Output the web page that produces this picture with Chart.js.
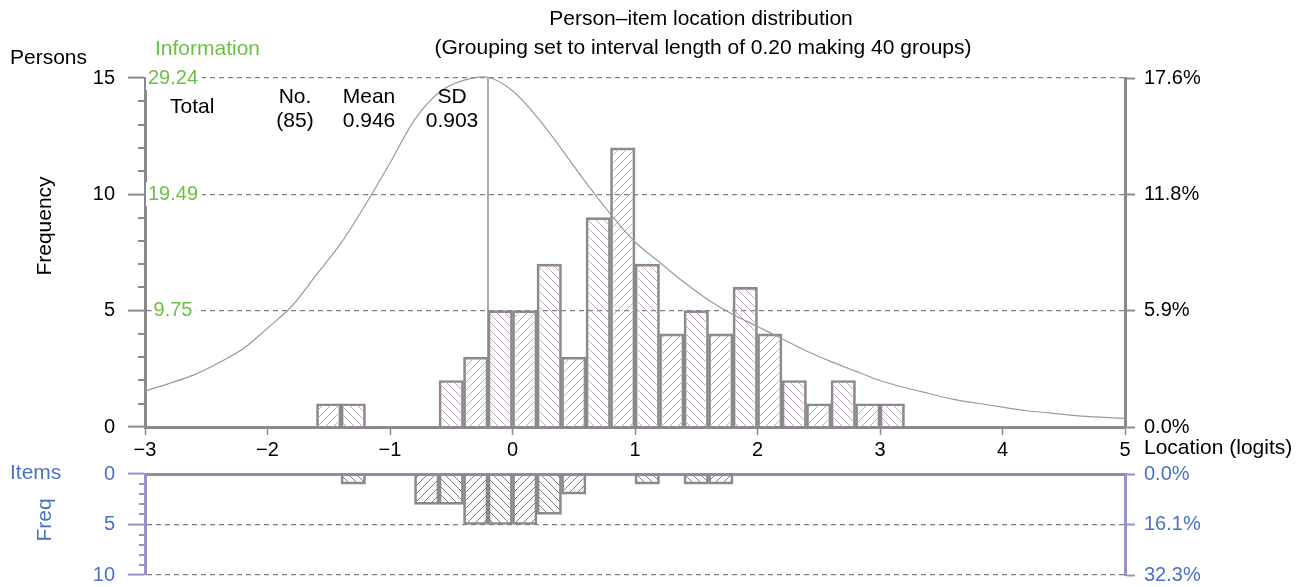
<!DOCTYPE html>
<html>
<head>
<meta charset="utf-8">
<script src="https://cdn.jsdelivr.net/npm/chart.js@4.4.1/dist/chart.umd.min.js"></script>
<style>
  body { margin: 0; background: #fff; }
  #wrap { position: relative; width: 1307px; height: 587px; }
  canvas { position: absolute; left: 0; }
  #personChart { top: 0; }
  #itemChart { top: 462px; }
</style>
</head>
<body>
<div id="wrap">
  <canvas id="personChart" width="1307" height="462"></canvas>
  <canvas id="itemChart" width="1307" height="125"></canvas>
</div>
<script>
// Persons: lower edge of each 0.20 logit group and count
const personLo = [-1.6, -1.4, -0.6, -0.4, -0.2, 0.0, 0.2, 0.4, 0.6, 0.8, 1.0, 1.2, 1.4, 1.6, 1.8, 2.0, 2.2, 2.4, 2.6, 2.8, 3.0];
const personN  = [1, 1, 2, 3, 5, 5, 7, 3, 9, 12, 7, 4, 5, 4, 6, 4, 2, 1, 2, 1, 1];

// Items: lower edge of each group and count
const itemLo = [-1.4, -0.8, -0.6, -0.4, -0.2, 0.0, 0.2, 0.4, 1.0, 1.4, 1.6];
const itemN  = [1, 3, 3, 5, 5, 5, 4, 2, 1, 1, 1];

// Test information curve
const infoX = [-3.0, -2.8, -2.6, -2.4, -2.2, -2.0, -1.8, -1.6, -1.4, -1.2, -1.0, -0.8, -0.6, -0.4, -0.2,
               0.0, 0.2, 0.4, 0.6, 0.8, 1.0, 1.2, 1.4, 1.6, 1.8, 2.0, 2.2, 2.4, 2.6, 2.8, 3.0,
               3.2, 3.4, 3.6, 3.8, 4.0, 4.2, 4.4, 4.6, 4.8, 5.0];
const infoY = [3.02, 3.66, 4.37, 5.36, 6.55, 8.28, 10.14, 12.77, 15.40, 18.64, 22.12, 25.73, 28.03, 29.04, 29.30,
               28.17, 25.98, 23.29, 20.47, 17.84, 15.50, 13.80, 12.12, 10.64, 9.43, 8.42, 7.39, 6.37, 5.48, 4.68, 3.90,
               3.31, 2.81, 2.32, 1.99, 1.66, 1.36, 1.17, 0.96, 0.82, 0.72];
const infoMax = 29.24;

const personMean = '0.946';
const personSD = '0.903';
const binWidth = 0.2;

const personTotal = personN.reduce((a, b) => a + b, 0);
const itemTotal = itemN.reduce((a, b) => a + b, 0);
let peakIdx = 0;
infoY.forEach((v, i) => { if (v > infoY[peakIdx]) peakIdx = i; });

const FONT = '"Liberation Sans", Arial, sans-serif';
const green = '#6cbf45';
const blue = '#4a72c4';
const axisGray = '#8a8a8a';
const axisPurple = '#9494c8';

Chart.defaults.font.family = FONT;
Chart.defaults.font.size = 20;
Chart.defaults.color = '#000';

// 8px diagonal hatch tile, one pixel per row so both directions look alike
function hatch(canvasId, dir, color) {
    const c = document.createElement('canvas');
    c.width = c.height = 8;
    const g = c.getContext('2d');
    g.fillStyle = color;
    for (let i = 0; i < 8; i++) {
        g.fillRect(dir === 'back' ? i : 7 - i, i, 1, 1);
    }
    return document.getElementById(canvasId).getContext('2d').createPattern(c, 'repeat');
}

function groupIndex(lo) { return Math.round((lo + 3) / binWidth); }

// free text drawn on top of the chart
const textPlugin = {
    id: 'texts',
    afterDraw(chart, args, opts) {
        const ctx = chart.ctx;
        (opts.items || []).forEach(t => {
            ctx.save();
            ctx.font = (t.size || 21) + 'px ' + FONT;
            ctx.fillStyle = t.color || '#000';
            ctx.textAlign = t.align || 'left';
            ctx.textBaseline = 'middle';
            ctx.translate(t.x, t.y);
            if (t.rotate) ctx.rotate(t.rotate);
            ctx.fillText(t.text, 0, 0);
            ctx.restore();
        });
    }
};

// short ticks between the labelled ones
const minorTicks = {
    id: 'minorTicks',
    afterDraw(chart, args, opts) {
        const s = chart.scales[opts.axis];
        if (!s) return;
        const ctx = chart.ctx;
        ctx.save();
        ctx.strokeStyle = opts.color;
        ctx.lineWidth = 2;
        for (let v = s.min; v <= s.max; v += 1) {
            if (v % 5 === 0) continue;
            const y = Math.round(s.getPixelForValue(v));
            ctx.beginPath();
            ctx.moveTo(s.right - opts.length, y);
            ctx.lineTo(s.right, y);
            ctx.stroke();
        }
        ctx.restore();
    }
};

const noZeroGrid = c => (c.tick && c.tick.value === 0) ? 'rgba(0,0,0,0)' : '#808080';
const fixWidth = w => s => { s.width = w; s.paddingTop = 0; s.paddingBottom = 0; };

// ---------- persons ----------
const backP = hatch('personChart', 'back', '#c6a6c6');
const fwdP = hatch('personChart', 'fwd', '#c6a6c6');

new Chart(document.getElementById('personChart'), {
    type: 'bar',
    data: {
        datasets: [
            {
                type: 'line',
                data: infoX.map((x, i) => ({ x: x, y: infoY[i] })),
                yAxisID: 'info',
                borderColor: '#9a9a9a',
                borderWidth: 1.2,
                pointRadius: 0,
                tension: 0.3,
                clip: 6,
                order: 0
            },
            {
                type: 'line',
                data: [{ x: infoX[peakIdx], y: 0 }, { x: infoX[peakIdx], y: infoY[peakIdx] }],
                yAxisID: 'info',
                borderColor: '#8c8c8c',
                borderWidth: 1.5,
                pointRadius: 0,
                clip: 6,
                order: 0
            },
            {
                type: 'bar',
                data: personLo.map((lo, i) => ({ x: lo + binWidth / 2, y: personN[i] })),
                yAxisID: 'y',
                backgroundColor: c => groupIndex(personLo[c.dataIndex]) % 2 ? fwdP : backP,
                borderColor: '#8a8a8a',
                borderWidth: 2,
                barPercentage: 1,
                categoryPercentage: 1,
                order: 1
            }
        ]
    },
    options: {
        responsive: false,
        animation: false,
        layout: { padding: { top: 78 } },
        plugins: {
            legend: { display: false },
            tooltip: { enabled: false },
            minorTicks: { axis: 'y', length: 7, color: axisGray },
            texts: {
                items: [
                    { text: 'Person\u2013item location distribution', x: 701, y: 19, align: 'center' },
                    { text: '(Grouping set to interval length of 0.20 making 40 groups)', x: 703, y: 48, align: 'center' },
                    { text: 'Persons', x: 10, y: 58 },
                    { text: 'Information', x: 155, y: 49, color: green },
                    { text: 'Frequency', x: 45, y: 226, align: 'center', rotate: -Math.PI / 2 },
                    { text: 'Total', x: 170, y: 107 },
                    { text: 'No.', x: 295, y: 97, align: 'center' },
                    { text: '(' + personTotal + ')', x: 295, y: 121, align: 'center' },
                    { text: 'Mean', x: 369, y: 97, align: 'center' },
                    { text: personMean, x: 369, y: 121, align: 'center' },
                    { text: 'SD', x: 452, y: 97, align: 'center' },
                    { text: personSD, x: 452, y: 121, align: 'center' },
                    { text: 'Location (logits)', x: 1144, y: 448 }
                ]
            }
        },
        scales: {
            x: {
                type: 'linear', min: -3, max: 5, offset: false, position: 'bottom',
                ticks: { stepSize: 1, padding: 3, maxRotation: 0, autoSkip: false,
                         callback: v => v < 0 ? '\u2212' + Math.abs(v) : String(v) },
                grid: { drawOnChartArea: false, offset: false, tickLength: 8, tickColor: axisGray, tickWidth: 1.5 },
                border: { color: axisGray, width: 3 },
                afterFit: s => { s.height = 35; }
            },
            y: {
                position: 'left', min: 0, max: 15, weight: 10,
                ticks: { stepSize: 5, padding: 13 },
                grid: { color: noZeroGrid, lineWidth: 1.2, tickLength: 17, tickColor: axisGray, tickWidth: 2 },
                border: { color: axisGray, width: 3, dash: [5, 4] },
                afterFit: fixWidth(145)
            },
            info: {
                position: 'left', min: 0, max: infoMax, weight: 0,
                afterBuildTicks: s => { s.ticks = [1, 2, 3].map(k => ({ value: infoMax * k / 3 })); },
                ticks: {
                    mirror: true, crossAlign: 'center', padding: 3, color: green,
                    callback: v => v.toFixed(2),
                    showLabelBackdrop: true, backdropColor: '#fff',
                    backdropPadding: { left: 2, right: 4, top: 0, bottom: 0 }
                },
                grid: { display: false },
                border: { display: false },
                afterFit: fixWidth(0)
            },
            pct: {
                position: 'right', min: 0, max: 15,
                ticks: { stepSize: 5, padding: 9, callback: v => (v / personTotal * 100).toFixed(1) + '%' },
                grid: { drawOnChartArea: false, tickLength: 10, tickColor: axisGray, tickWidth: 2 },
                border: { color: axisGray, width: 3 },
                afterFit: fixWidth(182)
            }
        }
    },
    plugins: [textPlugin, minorTicks]
});

// ---------- items ----------
const backI = hatch('itemChart', 'back', '#7c7c7c');
const fwdI = hatch('itemChart', 'fwd', '#7c7c7c');

new Chart(document.getElementById('itemChart'), {
    type: 'bar',
    data: {
        datasets: [{
            data: itemLo.map((lo, i) => ({ x: lo + binWidth / 2, y: itemN[i] })),
            backgroundColor: c => groupIndex(itemLo[c.dataIndex]) % 2 ? fwdI : backI,
            borderColor: '#8a8a8a',
            borderWidth: 2,
            barPercentage: 1,
            categoryPercentage: 1
        }]
    },
    options: {
        responsive: false,
        animation: false,
        layout: { padding: { bottom: 12 } },
        plugins: {
            legend: { display: false },
            tooltip: { enabled: false },
            minorTicks: { axis: 'y', length: 6, color: axisPurple },
            texts: {
                items: [
                    { text: 'Items', x: 10, y: 11, color: blue },
                    { text: 'Freq', x: 45, y: 58, align: 'center', color: blue, rotate: -Math.PI / 2 }
                ]
            }
        },
        scales: {
            x: {
                type: 'linear', min: -3, max: 5, offset: false, position: 'top',
                ticks: { display: false },
                grid: { display: false },
                border: { color: '#8c8ca4', width: 3 },
                afterFit: s => { s.height = 12; s.paddingLeft = 0; s.paddingRight = 0; }
            },
            y: {
                position: 'left', min: 0, max: 10, reverse: true,
                ticks: { stepSize: 5, padding: 13, color: blue },
                grid: { color: noZeroGrid, lineWidth: 1.2, tickLength: 17, tickColor: axisPurple, tickWidth: 2 },
                border: { color: axisPurple, width: 3, dash: [5, 4] },
                afterFit: fixWidth(145)
            },
            pct: {
                position: 'right', min: 0, max: 10, reverse: true,
                ticks: { stepSize: 5, padding: 9, color: blue, callback: v => (v / itemTotal * 100).toFixed(1) + '%' },
                grid: { drawOnChartArea: false, tickLength: 10, tickColor: axisPurple, tickWidth: 2 },
                border: { color: axisPurple, width: 3 },
                afterFit: fixWidth(182)
            }
        }
    },
    plugins: [textPlugin, minorTicks]
});
</script>
</body>
</html>
